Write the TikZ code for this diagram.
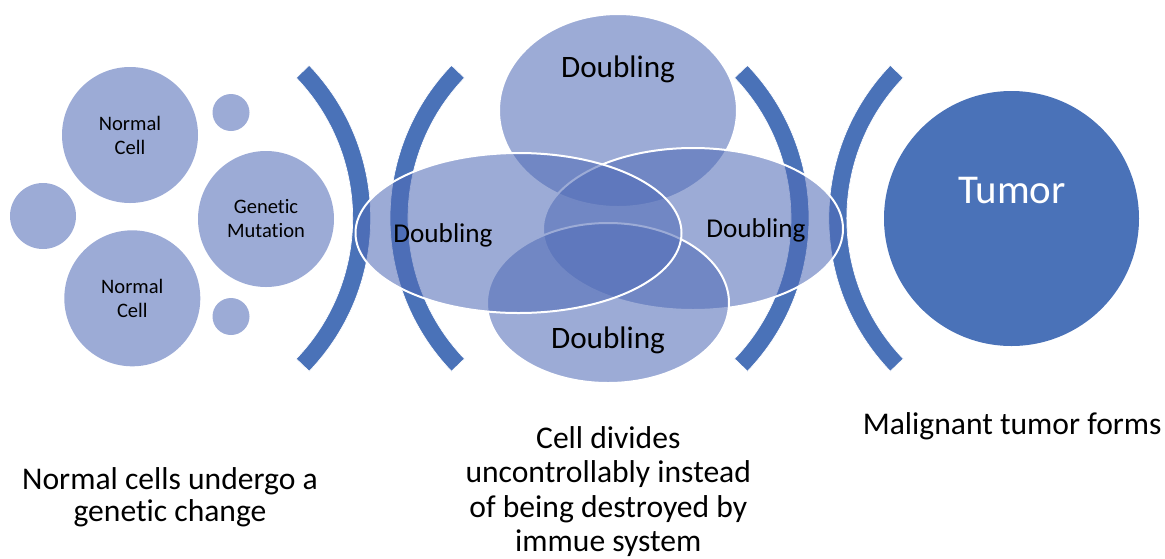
\documentclass[tikz,border=0pt]{standalone}
\usepackage{fontspec}
\setmainfont{Carlito}[Ligatures=NoCommon]
\usetikzlibrary{shapes.geometric}
\definecolor{dkblue}{HTML}{4A72B8}
\definecolor{ltblue}{HTML}{9CABD6}
\definecolor{ellblue}{RGB}{81,108,183}
\begin{document}
\begin{tikzpicture}[x=0.75pt,y=-0.75pt,
  cellcirc/.style={circle,fill=ltblue,inner sep=0pt,align=center,
    font=\fontsize{15.4pt}{18pt}\selectfont},
  brk/.style={fill=dkblue,draw=white,line width=0.5pt},
  ell/.style={ellipse,draw=white,line width=1.5pt,fill=ellblue,fill opacity=0.57,inner sep=0pt},
  dblbig/.style={anchor=base,inner sep=0pt,font=\fontsize{23.4pt}{28pt}\selectfont},
  dblsmall/.style={anchor=base,inner sep=0pt,font=\fontsize{20.4pt}{24pt}\selectfont},
  caption/.style={anchor=base,inner sep=0pt,align=center}
]
\useasboundingbox (0,0) rectangle (1165,558);

% left group of cells
\node[cellcirc,minimum size=102pt] (nc1) at (130,135) {Normal\\Cell};
\node[cellcirc,minimum size=102pt] (nc2) at (132.3,298.3) {Normal\\Cell};
\node[cellcirc,minimum size=102pt] (gm) at (266,219) {Genetic\\Mutation};
\node[cellcirc,minimum size=49.5pt] (s1) at (43,216) {};
\node[cellcirc,minimum size=27.75pt] (s2) at (231,112.5) {};
\node[cellcirc,minimum size=27.75pt] (s3) at (231,316.5) {};

% brackets
\fill[brk] (149.7,218.3) ++(-43.8:221) arc[start angle=-43.8,end angle=43.8,radius=221]
  -- ++(223.8:18) arc[start angle=43.8,end angle=-43.8,radius=203] -- cycle;
\fill[brk] (611,218.3) ++(136.2:221) arc[start angle=136.2,end angle=223.8,radius=221]
  -- ++(43.8:18) arc[start angle=223.8,end angle=136.2,radius=203] -- cycle;
\fill[brk] (588,218.3) ++(-43.8:221) arc[start angle=-43.8,end angle=43.8,radius=221]
  -- ++(223.8:18) arc[start angle=43.8,end angle=-43.8,radius=203] -- cycle;
\fill[brk] (1049.8,218.3) ++(136.2:221) arc[start angle=136.2,end angle=223.8,radius=221]
  -- ++(43.8:18) arc[start angle=223.8,end angle=136.2,radius=203] -- cycle;

% tumor
\node[circle,fill=dkblue,inner sep=0pt,minimum size=191.25pt] (tum) at (1011.5,218.5) {};
\node[anchor=base,inner sep=0pt,text=white,font=\fontsize{30.7pt}{36pt}\selectfont] (tumt) at (1012,203) {Tumor};

% doubling ellipses
\node[ell,minimum width=178.5pt,minimum height=144.75pt] (et) at (618,110.5) {};
\node[ell,minimum width=225pt,minimum height=121.5pt] (er) at (693,229) {};
\node[ell,minimum width=181.5pt,minimum height=120pt] (eb) at (608,303) {};
\node[ell,minimum width=244.5pt,minimum height=120pt] (el) at (518.5,233) {};

\node[dblbig] (dt) at (618,77.7) {Doubling};
\node[dblsmall] (dl) at (443,242) {Doubling};
\node[dblsmall] (dr) at (756,237) {Doubling};
\node[dblbig] (db) at (608,348) {Doubling};

% captions (base anchor = baseline of the last line)
\node[caption,font=\fontsize{23.7pt}{24.3pt}\selectfont] (c1) at (170,521.7)
  {Normal cells undergo a\\genetic change};
\node[caption,font=\fontsize{23.7pt}{25.8pt}\selectfont] (c2) at (608.3,551.7)
  {Cell divides\\uncontrollably instead\\of being destroyed by\\immue system};
\node[caption,font=\fontsize{23.7pt}{28pt}\selectfont] (c3) at (1012.2,434)
  {Malignant tumor forms};
\end{tikzpicture}
\end{document}
